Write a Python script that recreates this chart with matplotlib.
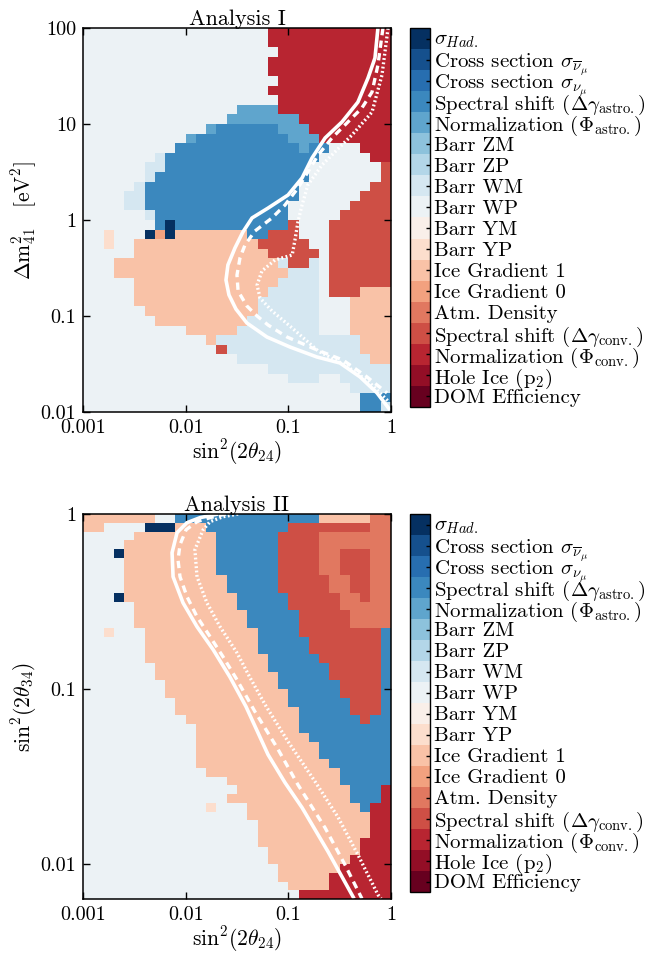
import matplotlib.pyplot as plt
import numpy as np
from matplotlib.ticker import FixedLocator, FixedFormatter, NullLocator

plt.rcParams['font.family'] = 'serif'
plt.rcParams['font.serif'] = ['cmr10']
plt.rcParams['mathtext.fontset'] = 'cm'
plt.rcParams['axes.unicode_minus'] = False
plt.rcParams['axes.formatter.use_mathtext'] = True

# systematics, colour index 0 (bottom of the colour bar) .. 17 (top)
systematics = [
    'DOM Efficiency',
    r'Hole Ice (p$_2$)',
    r'Normalization ($\Phi_{\rm conv.}$)',
    r'Spectral shift ($\Delta\gamma_{\rm conv.}$)',
    'Atm. Density',
    'Ice Gradient 0',
    'Ice Gradient 1',
    'Barr YP',
    'Barr YM',
    'Barr WP',
    'Barr WM',
    'Barr ZP',
    'Barr ZM',
    r'Normalization ($\Phi_{\rm astro.}$)',
    r'Spectral shift ($\Delta\gamma_{\rm astro.}$)',
    r'Cross section $\sigma_{\nu_\mu}$',
    r'Cross section $\sigma_{\overline{\nu}_\mu}$',
    r'$\sigma_{Had.}$',
]

# letter -> systematic index used in the maps below
codes = {'R': 2, 'r': 3, 'a': 4, 'g': 5, 'o': 6, 'p': 7,
         '.': 9, 'w': 10, 'b': 13, 'B': 14, 'N': 17}

# Analysis I: most impactful systematic, run-length coded rows (top row first)
# columns: 30 log bins of sin^2(2th24) 1e-3..1 ; rows: 40 log bins of dm41^2 100..0.01
analysis1_map = [
    "18. 12R", "18. 12R", "19. 11R", "18. 12R", "18. 12R",
    "19. 11R", "18. 12R", "19. 11R", "15. 4b 11R", "14. 7b 9R",
    "12. b 6B 3b 8R", "10. b 9B 3b 7R", "9. 12B b 2B 3. 3R", "7. w 15B 5. 2R",
    "6. 2w 14B 7. r", "6. w 15B 7. r", "5. w 15B 7. 2r", "4. 2w 15B 6. 3r",
    "4. 2w 14B 6. 4r", "6. w 13B 5. 5r", "7. B N 11B r 3. 6r",
    "2. p 3. N g N 7o 2B 3r 3. 6r", "2. p 2. 12o 5r 2. 6r", "5. 13o 5r . 6r",
    "3. 16o w 2r w . 6r", "3. 17o 3w . 6r", "5. 14o 4w . 6r", "5. 13o 5w . 3r 3o",
    "5. 12o 6w 3. 4o", "6. 11o 6w 3. 4o", "7. 9o 7w 3. 4o", "10. 5o 8w 3. 4o",
    "12. o 14w 3o", "13. r 13w 3o", "15. 13w 2o", "18. 12w",
    "20. 3w 2. 5w", "26. 4w", "27. 3B", "27. 2B w",
]

# Analysis II: columns as above ; rows: 44 log bins of sin^2(2th34) 1..10^-2.2
analysis2_map = [
    "7o 2. 14B 5o 2a", "2o 4. 3N 3o 8B 8r 2a", "5. 8o 6B 4r 7a", "4. 9o 6B 4r 7a",
    "3. N 9o 6B 4r 2a 3r 2a", "4. 9o 6B 4r 2a 3r 2a", "4. 9o 6B 4r 2a 3r 2a",
    "4. 10o 5B 5r 2a 2r 2a", "4. 10o 5B 5r 2a 2r 2a", "3. N 11o 5B 5r 2a r 2a",
    "5. 10o 5B 5r 5a", "5. 11o 5B 5r 4a", "5. 11o 5B 5r 4a", "2. p 3. 11o 4B 8r B",
    "6. 11o 5B 7r B", "6. 11o 5B 7r B", "6. 12o 5B 6r B", "7. 11o 6B 5r B",
    "7. 12o 5B 5r B", "8. 11o 6B 4r B", "8. 12o 5B 4r B", "9. 11o 6B 3r B",
    "9. 12o 5B 3r B", "10. 11o 6B r 2B", "11. 10o 9B", "11. 11o 8B",
    "11. 12o 7B", "11. 12o 7B", "11. 13o 6B", "12. 13o 5B", "14. 11o 5B",
    "15. 11o 3B R", "14. 12o 3B R", "12. p 3. 11o B 2R", "16. 12o 2R",
    "17. 11o 2R", "17. 11o 2R", "17. 10o 3R", "18. 9o 3R", "18. 8o 4R",
    "19. 6o 5R", "19. 5o 6R", "20. 4o 6R", "21. 9R",
]

# exclusion contours (white): solid, dashed, dotted
solid1_x = [0.746, 0.698, 0.597, 0.476, 0.333, 0.228, 0.170, 0.136, 0.0993, 0.0634, 0.0443,
            0.0361, 0.0302, 0.0258, 0.0247, 0.0264, 0.0309, 0.0395, 0.0619, 0.104, 0.190,
            0.318, 0.499, 0.731, 0.977]
solid1_y = [100, 48.7, 30.1, 16.9, 10.5, 7.15, 4.42, 2.74, 1.82, 1.33, 1.05,
            0.75, 0.511, 0.340, 0.237, 0.166, 0.118, 0.0845, 0.0604, 0.0475, 0.0374,
            0.0324, 0.0232, 0.0158, 0.0105]
dashed1_x = [0.835, 0.746, 0.653, 0.521, 0.356, 0.266, 0.195, 0.155, 0.124, 0.0927, 0.0693,
             0.0473, 0.0378, 0.0338, 0.0316, 0.0324, 0.0395, 0.0496, 0.0634, 0.0971, 0.190,
             0.340, 0.583, 0.914]
dashed1_y = [100, 41.2, 21.5, 14.7, 9.77, 7.15, 4.75, 3.16, 2.15, 1.43, 1.05,
             0.768, 0.549, 0.402, 0.267, 0.182, 0.127, 0.1, 0.0806, 0.0604, 0.0443,
             0.0348, 0.0232, 0.0158]
dotted1_x = [0.936, 0.817, 0.653, 0.417, 0.284, 0.213, 0.155, 0.136, 0.124, 0.116, 0.109,
             0.0741, 0.0553, 0.0496, 0.0530, 0.0693, 0.109, 0.195, 0.356, 0.597, 0.936]
dotted1_y = [100, 32.4, 13.3, 7.68, 5.11, 3.74, 2.32, 1.43, 0.953, 0.619, 0.432,
             0.383, 0.294, 0.210, 0.154, 0.113, 0.075, 0.0432, 0.0309, 0.0210, 0.0130]

solid2_x = [0.0207, 0.0138, 0.0103, 0.00824, 0.00737, 0.00754, 0.00942, 0.0129, 0.0185,
            0.0270, 0.0387, 0.0634, 0.0927, 0.136, 0.243, 0.437]
solid2_y = [1.0, 0.953, 0.892, 0.782, 0.601, 0.438, 0.311, 0.227, 0.168,
            0.117, 0.0793, 0.0422, 0.0292, 0.0210, 0.0118, 0.00634]
dashed2_x = [0.0247, 0.0173, 0.0129, 0.0101, 0.00881, 0.00842, 0.00881, 0.0103, 0.0129,
             0.0173, 0.0231, 0.0316, 0.0473, 0.0777, 0.124, 0.228, 0.356, 0.521]
dashed2_y = [1.0, 0.953, 0.904, 0.813, 0.668, 0.548, 0.438, 0.337, 0.259,
             0.199, 0.153, 0.113, 0.0742, 0.0462, 0.0284, 0.0161, 0.00991, 0.00634]
dotted2_x = [0.0324, 0.0231, 0.0173, 0.0148, 0.0123, 0.0129, 0.0161, 0.0216, 0.0316,
             0.0424, 0.0593, 0.0993, 0.182, 0.305, 0.476, 0.746, 0.80]
dotted2_y = [1.0, 0.965, 0.904, 0.813, 0.625, 0.438, 0.311, 0.227, 0.161,
             0.116, 0.0815, 0.0501, 0.0296, 0.0185, 0.0113, 0.00668, 0.00634]


def decode(rows, ncol=30):
    grid = []
    for row in rows:
        cells = []
        for tok in row.split():
            n = int(tok[:-1]) if len(tok) > 1 else 1
            cells += [codes[tok[-1]]] * n
        cells = (cells + [9] * ncol)[:ncol]
        grid.append(cells)
    return np.array(grid)


cmap = plt.get_cmap('RdBu', 18)
fig = plt.figure(figsize=(6.45, 9.58), dpi=100)


def panel(rect, cbrect, grid, yedges, title, ylabel, yticks, yticklabels, lines):
    ax = fig.add_axes(rect)
    xedges = np.logspace(-3, 0, grid.shape[1] + 1)
    mesh = ax.pcolormesh(xedges, yedges, grid, cmap=cmap, vmin=-0.5, vmax=17.5)
    (sx, sy), (dx, dy), (ox, oy) = lines
    ax.plot(sx, sy, color='white', lw=2.6, solid_capstyle='butt')
    ax.plot(dx, dy, color='white', lw=2.4, linestyle=(0, (2.2, 1.6)))
    ax.plot(ox, oy, color='white', lw=2.4, linestyle=(0, (0.55, 0.75)))
    ax.set_xscale('log')
    ax.set_yscale('log')
    ax.set_xlim(1e-3, 1)
    ax.set_ylim(yedges.min(), yedges.max())
    ax.xaxis.set_major_locator(FixedLocator([1e-3, 1e-2, 1e-1, 1]))
    ax.xaxis.set_major_formatter(FixedFormatter(['0.001', '0.01', '0.1', '1']))
    ax.yaxis.set_major_locator(FixedLocator(yticks))
    ax.yaxis.set_major_formatter(FixedFormatter(yticklabels))
    ax.xaxis.set_minor_locator(NullLocator())
    ax.yaxis.set_minor_locator(NullLocator())
    ax.tick_params(direction='in', length=5, width=1, top=True, right=True,
                   labelsize=14.5, pad=5)
    for s in ax.spines.values():
        s.set_linewidth(1.1)
    ax.set_title(title, fontsize=16, pad=2)
    ax.set_xlabel(r'$\mathrm{sin}^2(2\theta_{24})$', fontsize=15.5, labelpad=0)
    ax.set_ylabel(ylabel, fontsize=15.5, labelpad=1)

    cax = fig.add_axes(cbrect)
    cb = fig.colorbar(mesh, cax=cax, ticks=np.arange(18))
    cb.set_ticklabels(systematics)
    cb.outline.set_linewidth(1.0)
    cax.tick_params(direction='in', length=3, width=1, labelsize=15, pad=3)
    return ax


grid1 = decode(analysis1_map)
grid2 = decode(analysis2_map)

panel([83 / 645, 546 / 958, 308 / 645, 384 / 958],
      [410 / 645, 551 / 958, 20 / 645, 379 / 958],
      grid1, np.logspace(2, -2, grid1.shape[0] + 1), 'Analysis I',
      r'$\Delta\mathrm{m}^2_{41}\quad[\mathrm{eV}^2]$',
      [0.01, 0.1, 1, 10, 100], ['0.01', '0.1', '1', '10', '100'],
      [(solid1_x, solid1_y), (dashed1_x, dashed1_y), (dotted1_x, dotted1_y)])

panel([83 / 645, 59 / 958, 308 / 645, 385 / 958],
      [410 / 645, 66 / 958, 20 / 645, 378 / 958],
      grid2, np.logspace(0, -2.2, grid2.shape[0] + 1), 'Analysis II',
      r'$\mathrm{sin}^2(2\theta_{34})$',
      [0.01, 0.1, 1], ['0.01', '0.1', '1'],
      [(solid2_x, solid2_y), (dashed2_x, dashed2_y), (dotted2_x, dotted2_y)])

fig.savefig('out.png', dpi=100)
